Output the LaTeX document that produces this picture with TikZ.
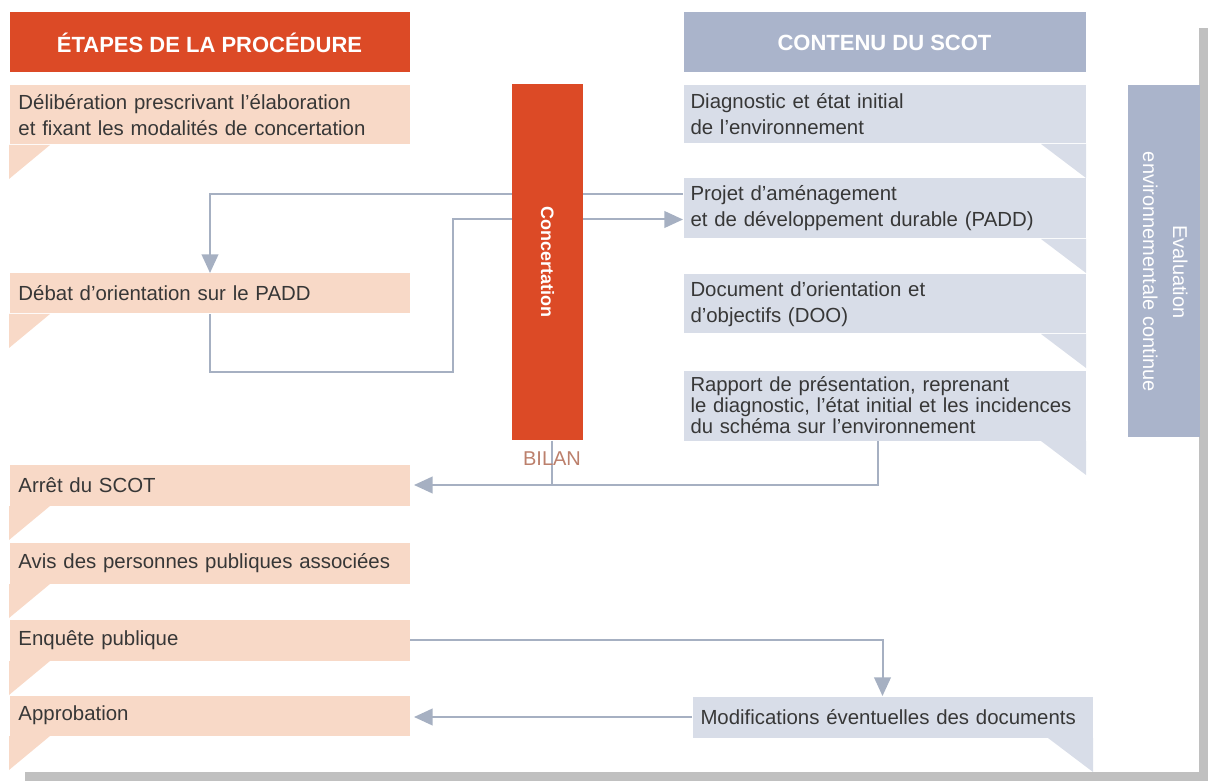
\documentclass[tikz,border=0pt]{standalone}
\usepackage{fontspec}
\setmainfont{Liberation Sans}
\usetikzlibrary{arrows.meta}

\definecolor{procorange}{RGB}{220,74,38}
\definecolor{procpeach}{RGB}{248,217,199}
\definecolor{scotblue}{RGB}{170,180,203}
\definecolor{scotlight}{RGB}{216,221,232}
\definecolor{linkgray}{RGB}{166,176,194}
\definecolor{txtgray}{RGB}{55,55,55}
\definecolor{shadowgray}{RGB}{192,192,192}
\definecolor{bilanbrown}{RGB}{188,128,108}

\tikzset{every picture/.style={line width=0.75pt}}
\tikzset{
  stepbox/.style={fill=procpeach, text=txtgray, anchor=north west, minimum width=300pt, text width=286.5pt, inner xsep=6.75pt, inner ysep=0pt, align=left, font=\fontsize{15.3}{19.5}\selectfont},
  scotbox/.style={fill=scotlight, text=txtgray, anchor=north west, minimum width=301.5pt, text width=291pt, inner xsep=5.25pt, inner ysep=0pt, align=left, font=\fontsize{15.3}{19.5}\selectfont},
  headbox/.style={anchor=north west, text=white, minimum height=45pt, inner sep=0pt, font=\bfseries\fontsize{16.5}{19.8}\selectfont},
  link/.style={draw=linkgray, line width=1.5pt},
  linkarrow/.style={link, -{Triangle[length=14pt,width=12.5pt]}},
}

\begin{document}
\begin{tikzpicture}[x=0.75pt,y=0.75pt,yscale=-1,xscale=1]
\useasboundingbox (0,0) rectangle (1208,781);

%Shape: Shadow
\fill[shadowgray] (1199,28) rectangle (1208,781);
\fill[shadowgray] (25,772) rectangle (1208,781);

% Header Nodes
\node[headbox, fill=procorange, minimum width=300pt] (etapes) at (9,12) {ÉTAPES DE LA PROCÉDURE};
\node[headbox, fill=scotblue, minimum width=301.5pt] (contenu) at (683,12) {CONTENU DU SCOT};

% Procedure steps
\node[stepbox, minimum height=44.25pt] (delib) at (9,85) {Délibération prescrivant l'élaboration\\et fixant les modalités de concertation};
\node[stepbox, minimum height=30pt] (debat) at (9,273) {Débat d'orientation sur le PADD};
\node[stepbox, minimum height=30.75pt] (arret) at (9,464) {Arrêt du SCOT};
\node[stepbox, minimum height=30.75pt] (avis) at (9,542) {Avis des personnes publiques associées};
\node[stepbox, minimum height=30.75pt] (enquete) at (9,619) {Enquête publique};
\node[stepbox, minimum height=30pt] (approb) at (9,695) {Approbation};

% Contents of the SCOT
\node[scotbox, minimum height=43.5pt] (diag) at (683,85) {Diagnostic et état initial\\de l'environnement};
\node[scotbox, minimum height=45pt] (padd) at (683,178) {Projet d'aménagement\\et de développement durable (PADD)};
\node[scotbox, minimum height=44.25pt] (doo) at (683,274) {Document d'orientation et\\d'objectifs (DOO)};
\node[scotbox, minimum height=52.5pt, font=\fontsize{15.2}{15.75}\selectfont] (rapport) at (683,370) {Rapport de présentation, reprenant\\le diagnostic, l'état initial et les incidences\\du schéma sur l'environnement};
\node[scotbox, minimum height=30.75pt, minimum width=300pt, text width=288pt, inner xsep=6pt] (modif) at (692,696) {Modifications éventuelles des documents};

%Shape: Tails
\foreach \b in {delib,debat,arret,avis,enquete,approb}
  \fill[procpeach] (\b.south west) -- ++(41,0) -- ++(-41,34) -- cycle;
\foreach \b in {diag,padd,doo,rapport,modif}
  \fill[scotlight] (\b.south east) -- ++(-45,0) -- ++(45,34) -- cycle;

%Straight Lines
\draw[linkarrow] ([yshift=12pt]padd.north west) -| ([xshift=150.75pt]debat.north west);
\draw[linkarrow] ([xshift=150.75pt]debat.south west) -- ++(0,58) -- ++(243,0) |- ([yshift=8.25pt]padd.west);
\draw[linkarrow, shorten >=3pt] ([xshift=-5.25pt]rapport.south) |- (arret.east);
\draw[linkarrow] (enquete.east) -| ([xshift=-7.5pt]modif.north);
\draw[linkarrow, shorten >=3pt] (modif.west) -- (modif.west -| approb.east);

%Shape: Concertation bar
\node[fill=procorange, minimum width=53.25pt, minimum height=267pt, inner sep=0pt, text=white, font=\bfseries\fontsize{13.5}{16}\selectfont] (concert) at (547.5,262) {\rotatebox{-90}{Concertation}};
\draw[link] ([xshift=3.4pt]concert.south) -- ([xshift=3.4pt]concert.south |- arret.east);
% Text Node
\node[text=bilanbrown, inner sep=0pt, font=\fontsize{15}{18}\selectfont] (bilan) at (552,459) {BILAN};

%Shape: Evaluation bar
\node[fill=scotblue, minimum width=54pt, minimum height=264pt, inner sep=0pt, text=white, font=\fontsize{15}{22.5}\selectfont] (evaluation) at (1164,261) {\rotatebox{-90}{\hspace{16.5pt}\begin{tabular}{@{}c@{}}Evaluation\\environnementale continue\end{tabular}}};

\end{tikzpicture}
\end{document}
